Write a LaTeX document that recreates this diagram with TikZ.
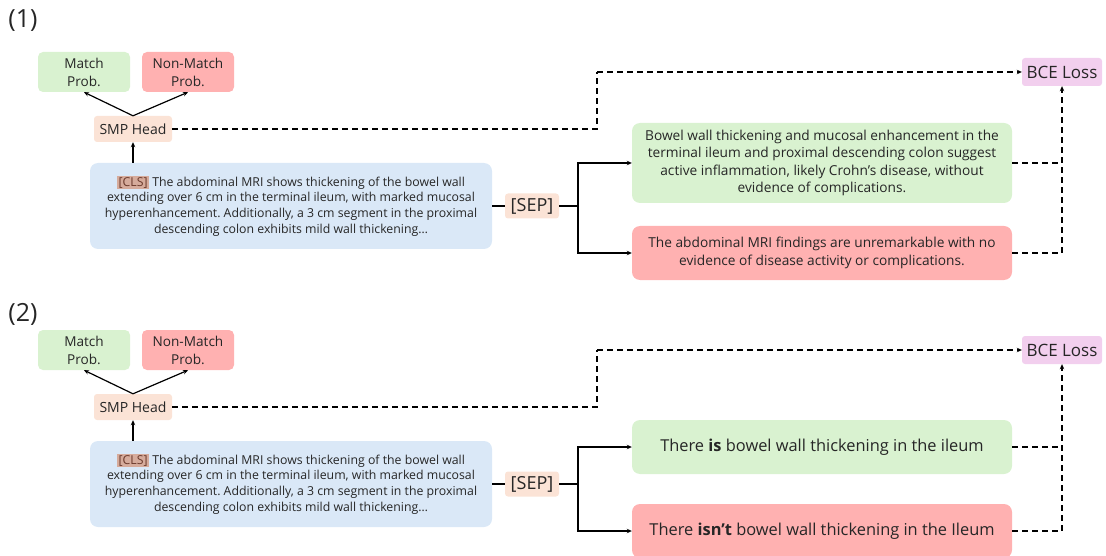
\documentclass[tikz,border=0pt]{standalone}
\usepackage{fontspec}
\setmainfont{Open Sans}
\usetikzlibrary{arrows.meta}
\definecolor{ink}{HTML}{262626}
\definecolor{matchgreen}{HTML}{D9F2D0}
\definecolor{nomatchred}{HTML}{FFB1B1}
\definecolor{ctxblue}{HTML}{DAE8F7}
\definecolor{peach}{HTML}{FBE3D6}
\definecolor{losspink}{HTML}{F2CFEE}
\definecolor{clsfill}{HTML}{D6AB9B}
\definecolor{clstext}{HTML}{6B3A2C}
\newcommand{\clstag}{{\setlength{\fboxsep}{1.5pt}\colorbox{clsfill}{\textcolor{clstext}{[CLS]}}}}
\frenchspacing

\begin{document}
\begin{tikzpicture}[x=1pt,y=-1pt,
  every node/.style={text=ink},
  prob/.style={rounded corners=5pt,inner sep=0pt,minimum width=92pt,minimum height=40pt,align=center,font=\fontsize{13.6}{18}\selectfont},
  tagbox/.style={fill=peach,rounded corners=3pt,inner sep=0pt,minimum height=26pt},
  sent/.style={rounded corners=8pt,inner sep=0pt,align=center},
  arr/.style={line width=1.2pt,-{Stealth[length=5pt,width=4.5pt]}},
  lossline/.style={line width=1.3pt,dash pattern=on 6pt off 4pt}
]
  \useasboundingbox (0,0) rectangle (1106,556);
  \foreach \s/\dy/\ly in {1/0/21,2/278/314} {
    \node[font=\fontsize{25}{28}\selectfont] (lbl\s) at (23,\ly) {(\s)};
    \node[prob,fill=matchgreen] (match\s) at (84,72+\dy) {Match\\Prob.};
    \node[prob,fill=nomatchred] (nomatch\s) at (188,72+\dy) {Non-Match\\Prob.};
    \node[tagbox,minimum width=78pt,font=\fontsize{14}{16}\selectfont] (smp\s) at (133,129+\dy) {SMP Head};
    \node[sent,fill=ctxblue,minimum width=402pt,minimum height=86pt,font=\fontsize{12.3}{15.8}\selectfont] (ctx\s) at (291,206+\dy)
      {\clstag{} The abdominal MRI shows thickening of the bowel wall\\
       extending over 6 cm in the terminal ileum, with marked mucosal\\
       hyperenhancement. Additionally, a 3 cm segment in the proximal\\
       descending colon exhibits mild wall thickening\ldots};
    \node[tagbox,minimum width=54pt,minimum height=25pt,font=\fontsize{18}{20}\selectfont] (sep\s) at (532,206+\dy) {[SEP]};
    \node[fill=losspink,rounded corners=3pt,inner sep=0pt,minimum width=80pt,minimum height=28pt,font=\fontsize{17}{19}\selectfont] (bce\s) at (1062,72+\dy) {BCE Loss};
    \coordinate (fork\s) at (578,206+\dy);
    \coordinate (turn\s) at (597,72+\dy);
    \draw[arr] (smp\s.north) -- (match\s.south);
    \draw[arr] (smp\s.north) -- (nomatch\s.south);
    \draw[arr] (smp\s.south |- ctx\s.north) -- (smp\s.south);
    \draw[line width=1.2pt] (ctx\s) -- (sep\s);
    \draw[line width=1.2pt] (sep\s) -- (fork\s);
    \draw[lossline] (smp\s.east) -| (turn\s);
    \draw[lossline,-{Stealth[length=5pt,width=4.5pt]}] (turn\s) -- (bce\s.west);
  }
  \node[sent,fill=matchgreen,minimum width=380pt,minimum height=80pt,font=\fontsize{13.7}{17.5}\selectfont] (pos1) at (822,163)
    {Bowel wall thickening and mucosal enhancement in the\\
     terminal ileum and proximal descending colon suggest\\
     active inflammation, likely Crohn's disease, without\\
     evidence of complications.};
  \node[sent,fill=nomatchred,minimum width=380pt,minimum height=54pt,font=\fontsize{13.7}{17.5}\selectfont] (neg1) at (822,253)
    {The abdominal MRI findings are unremarkable with no\\
     evidence of disease activity or complications.};
  \node[sent,fill=matchgreen,minimum width=380pt,minimum height=54pt,font=\fontsize{16.4}{19}\selectfont] (pos2) at (822,447)
    {There \textbf{is} bowel wall thickening in the ileum};
  \node[sent,fill=nomatchred,minimum width=380pt,minimum height=54pt,font=\fontsize{16.4}{19}\selectfont] (neg2) at (822,531)
    {There \textbf{isn’t} bowel wall thickening in the Ileum};
  \foreach \s in {1,2} {
    \draw[arr] (fork\s) |- (pos\s.west);
    \draw[arr] (fork\s) |- (neg\s.west);
    \draw[lossline] (pos\s.east) -- (pos\s.east -| bce\s.south);
    \draw[lossline,-{Stealth[length=5pt,width=4.5pt]}] (neg\s.east) -| (bce\s.south);
  }
\end{tikzpicture}
\end{document}
